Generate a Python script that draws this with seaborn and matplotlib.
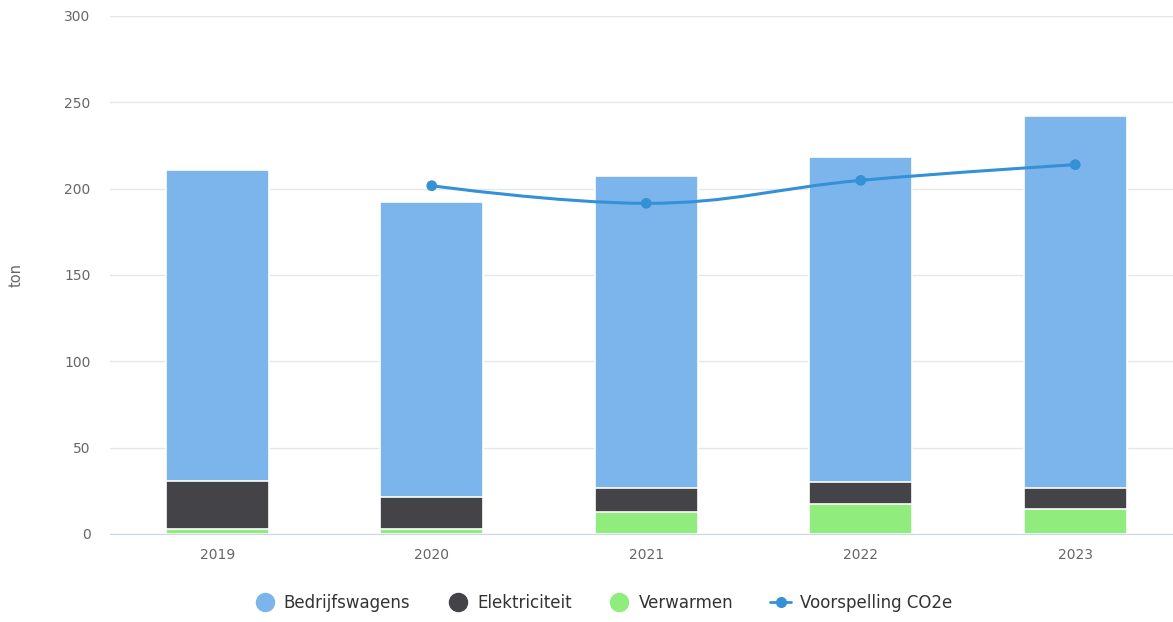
import matplotlib
matplotlib.use('Agg')
import matplotlib.pyplot as plt
import numpy as np
import pandas as pd
import seaborn as sns
from matplotlib.lines import Line2D
from matplotlib.path import Path
from matplotlib.patches import PathPatch

jaren = ['2019', '2020', '2021', '2022', '2023']
bedrijfswagens = [180.1, 170.6, 180.9, 188.4, 215.6]
elektriciteit = [28.0, 18.9, 13.9, 12.3, 12.1]
verwarmen = [2.7, 2.7, 12.5, 17.6, 14.3]

voorspelling_jaren = ['2020', '2021', '2022', '2023']
voorspelling = [201.7, 191.5, 204.8, 213.9]

kleuren = {
    'Bedrijfswagens': '#7cb5ec',
    'Elektriciteit': '#434348',
    'Verwarmen': '#90ed7d',
    'Voorspelling CO2e': '#3591d6',
}


def spline_path(xs, ys, smoothing=1.5):
    # highcharts-achtige spline tussen de punten
    n = len(xs)
    denom = smoothing + 1
    left = [(xs[i], ys[i]) for i in range(n)]
    right = [(xs[i], ys[i]) for i in range(n)]
    for i in range(1, n - 1):
        x, y = xs[i], ys[i]
        lx, ly = xs[i - 1], ys[i - 1]
        nx, ny = xs[i + 1], ys[i + 1]
        lcx = (smoothing * x + lx) / denom
        lcy = (smoothing * y + ly) / denom
        rcx = (smoothing * x + nx) / denom
        rcy = (smoothing * y + ny) / denom
        if rcx != lcx:
            corr = (rcy - lcy) * (rcx - x) / (rcx - lcx) + y - rcy
            lcy += corr
            rcy += corr
        if lcy > ly and lcy > y:
            lcy = max(ly, y)
            rcy = 2 * y - lcy
        elif lcy < ly and lcy < y:
            lcy = min(ly, y)
            rcy = 2 * y - lcy
        if rcy > ny and rcy > y:
            rcy = max(ny, y)
            lcy = 2 * y - rcy
        elif rcy < ny and rcy < y:
            rcy = min(ny, y)
            lcy = 2 * y - rcy
        left[i] = (lcx, lcy)
        right[i] = (rcx, rcy)
    verts = [(xs[0], ys[0])]
    codes = [Path.MOVETO]
    for i in range(1, n):
        verts += [right[i - 1], left[i], (xs[i], ys[i])]
        codes += [Path.CURVE4] * 3
    return Path(verts, codes)


df = pd.DataFrame({
    'jaar': jaren,
    'Bedrijfswagens': bedrijfswagens,
    'Elektriciteit': elektriciteit,
    'Verwarmen': verwarmen,
})
df['top_verw'] = df['Verwarmen']
df['top_elek'] = df['top_verw'] + df['Elektriciteit']
df['top_bedr'] = df['top_elek'] + df['Bedrijfswagens']

sns.set_style('white')
plt.rcParams['font.family'] = ['DejaVu Sans']

fig = plt.figure(figsize=(11.73, 6.22), dpi=100)
# plotgebied loopt iets voorbij de rechterrand, zoals in het origineel
ax = fig.add_axes([0.0938, 0.1415, 0.9143, 0.8328])

for kolom, naam in [('top_bedr', 'Bedrijfswagens'), ('top_elek', 'Elektriciteit'), ('top_verw', 'Verwarmen')]:
    sns.barplot(data=df, x='jaar', y=kolom, color=kleuren[naam], width=0.48,
                edgecolor='white', linewidth=1.2, saturation=1, ax=ax, zorder=3)

# voorspelling als vloeiende lijn
pos = {j: i for i, j in enumerate(jaren)}
vx = [pos[j] for j in voorspelling_jaren]
pad = spline_path(vx, voorspelling)
ax.add_patch(PathPatch(pad, facecolor='none', edgecolor=kleuren['Voorspelling CO2e'], lw=2.2, zorder=4))
sns.scatterplot(x=vx, y=voorspelling, color=kleuren['Voorspelling CO2e'], s=60,
                edgecolor='none', ax=ax, zorder=5)

ax.set_xlim(-0.5, 4.5)
ax.set_ylim(0, 300)
ax.set_yticks(np.arange(0, 301, 50))
ax.yaxis.grid(True, color='#e6e6e6', linewidth=1, zorder=0)
ax.set_axisbelow(True)
for s in ['top', 'right', 'left']:
    ax.spines[s].set_visible(False)
ax.spines['bottom'].set_color('#ccd6eb')
ax.spines['bottom'].set_zorder(6)
ax.tick_params(axis='both', length=0, labelsize=10, labelcolor='#666666')
ax.tick_params(axis='y', pad=14)
ax.tick_params(axis='x', pad=10)
ax.set_xlabel('')
ax.set_ylabel('ton', color='#666666', fontsize=10.5, labelpad=29)

handles = [
    Line2D([], [], marker='o', linestyle='none', markersize=13, color=kleuren['Bedrijfswagens']),
    Line2D([], [], marker='o', linestyle='none', markersize=13, color=kleuren['Elektriciteit']),
    Line2D([], [], marker='o', linestyle='none', markersize=13, color=kleuren['Verwarmen']),
    Line2D([], [], marker='o', markersize=7, lw=2, color=kleuren['Voorspelling CO2e']),
]
labels = ['Bedrijfswagens', 'Elektriciteit', 'Verwarmen', 'Voorspelling CO2e']
fig.legend(handles, labels, loc='center', bbox_to_anchor=(0.514, 0.031), ncol=4,
           frameon=False, fontsize=12, handlelength=1.3, handletextpad=0.5,
           columnspacing=2.2, labelcolor='#333333')

fig.savefig('out.png', dpi=100)
